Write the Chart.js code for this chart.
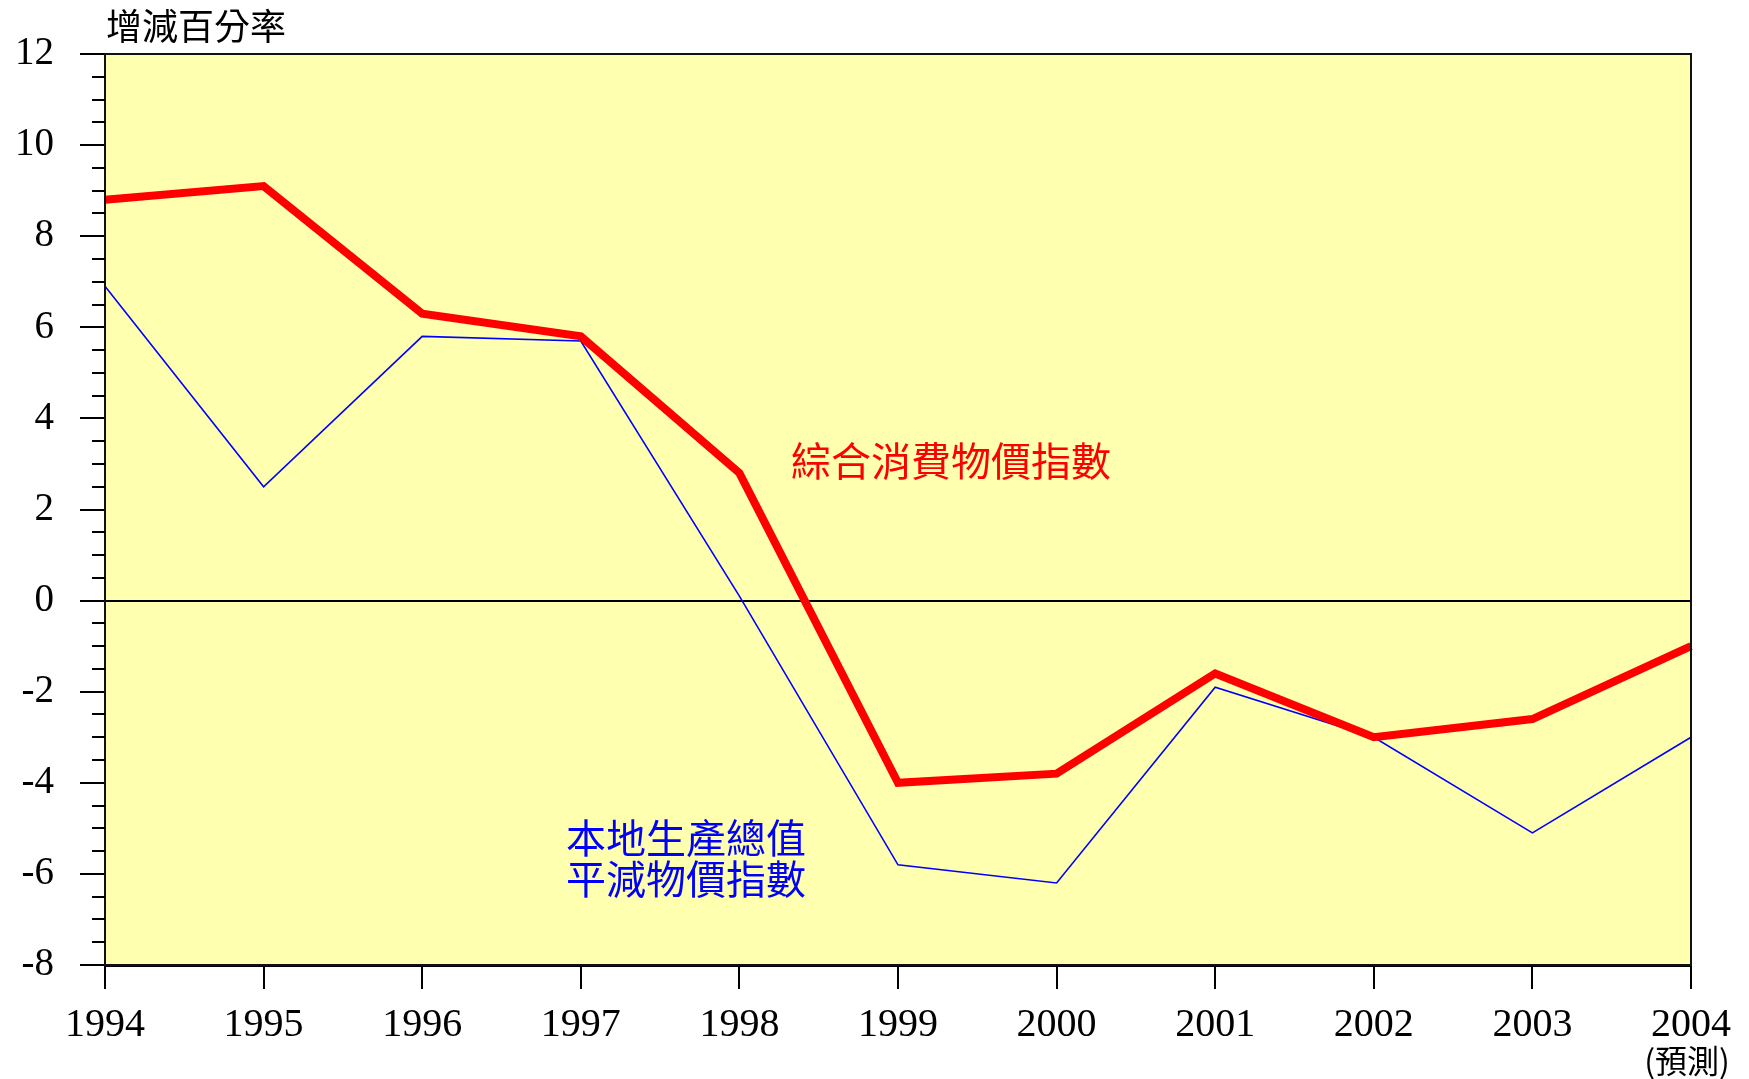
<!DOCTYPE html>
<html>
<head>
<meta charset="utf-8">
<script src="https://cdn.jsdelivr.net/npm/chart.js@4/dist/chart.umd.min.js"></script>
<style>
  body { margin: 0; background: #ffffff; }
  #myChart { display: block; }
</style>
</head>
<body>
<canvas id="myChart" width="1749" height="1079"></canvas>
<script>
// chart data
const years = ["1994", "1995", "1996", "1997", "1998", "1999", "2000", "2001", "2002", "2003", "2004"];
const cpiValues = [8.8, 9.1, 6.3, 5.8, 2.8, -4.0, -3.8, -1.6, -3.0, -2.6, -1.0];
const gdpDeflatorValues = [6.9, 2.5, 5.8, 5.7, 0.1, -5.8, -6.2, -1.9, -3.0, -5.1, -3.0];

// axis range / ticks
const yMin = -8;
const yMax = 12;
const yMajorStep = 2;
const yMinorStep = 0.5;

// texts
const axisTitle = "增減百分率";
const cpiLabel = "綜合消費物價指數";
const gdpLabel = ["本地生產總值", "平減物價指數"];
const forecastNote = "(預測)";

const numFont = "Liberation Serif";
const cjkFont = "'Noto Sans CJK TC', 'Noto Sans CJK SC', sans-serif";

/* Fill plot background and draw the frame */
const plotBox = {
  id: "plotBox",
  beforeDraw(chart) {
    const { ctx, chartArea: a } = chart;
    ctx.save();
    ctx.fillStyle = "#ffffb0";
    ctx.fillRect(a.left, a.top, a.right - a.left, a.bottom - a.top);
    ctx.restore();
  },
  afterDatasetsDraw(chart) {
    const { ctx, chartArea: a } = chart;
    ctx.save();
    ctx.strokeStyle = "#111111";
    ctx.lineWidth = 2;
    ctx.strokeRect(a.left, a.top, a.right - a.left, a.bottom - a.top);
    ctx.restore();
  },
};

/* Minor ticks on y axis + text labels */
const extras = {
  id: "extras",
  afterDraw(chart) {
    const { ctx, chartArea: a } = chart;
    const y = chart.scales.y;
    const x = chart.scales.x;

    ctx.save();
    ctx.strokeStyle = "#000000";
    ctx.lineWidth = 2;
    for (let v = yMin; v <= yMax; v += yMinorStep) {
      if (v % yMajorStep === 0) continue;
      const py = Math.round(y.getPixelForValue(v));
      ctx.beginPath();
      ctx.moveTo(a.left - 13, py);
      ctx.lineTo(a.left, py);
      ctx.stroke();
    }

    // axis title
    ctx.fillStyle = "#000000";
    ctx.font = "36px " + cjkFont;
    ctx.textAlign = "left";
    ctx.textBaseline = "middle";
    ctx.fillText(axisTitle, 106, 26);

    // forecast note under last year
    ctx.font = "32px " + cjkFont;
    ctx.textAlign = "center";
    ctx.fillText(forecastNote, x.getPixelForValue(years.length - 1) - 4, 1061);

    // series labels
    ctx.font = "40px " + cjkFont;
    ctx.fillStyle = "#ff0000";
    ctx.fillText(cpiLabel, 951, 461);

    ctx.fillStyle = "#0000ff";
    ctx.textAlign = "left";
    ctx.fillText(gdpLabel[0], 566, 838);
    ctx.fillText(gdpLabel[1], 566, 879);
    ctx.restore();
  },
};

const data = {
  labels: years,
  datasets: [
    {
      label: cpiLabel,
      data: cpiValues,
      borderColor: "#ff0000",
      borderWidth: 8,
      pointRadius: 0,
      tension: 0,
      borderJoinStyle: "miter",
    },
    {
      label: gdpLabel.join(""),
      data: gdpDeflatorValues,
      borderColor: "#0000ff",
      borderWidth: 1.6,
      pointRadius: 0,
      tension: 0,
    },
  ],
};

const config = {
  type: "line",
  data: data,
  options: {
    responsive: false,
    devicePixelRatio: 1,
    animation: false,
    layout: {
      padding: { top: 54, right: 58, left: 0, bottom: 0 },
    },
    plugins: {
      legend: { display: false },
      tooltip: { enabled: false },
    },
    scales: {
      x: {
        type: "category",
        offset: false,
        afterFit: (scale) => {
          scale.height = 114;
        },
        border: { display: true, color: "#000000", width: 3 },
        grid: {
          drawOnChartArea: false,
          drawTicks: true,
          tickLength: 24,
          tickColor: "#000000",
          lineWidth: 2,
        },
        ticks: {
          autoSkip: false,
          maxRotation: 0,
          padding: 12,
          color: "#000000",
          font: { family: numFont, size: 40 },
        },
      },
      y: {
        min: yMin,
        max: yMax,
        afterFit: (scale) => {
          scale.width = 105;
        },
        border: { display: true, color: "#000000", width: 2 },
        grid: {
          drawOnChartArea: true,
          drawTicks: true,
          tickLength: 25,
          tickColor: "#000000",
          lineWidth: 2,
          color: (ctx) => (ctx.tick && ctx.tick.value === 0 ? "#000000" : "rgba(0,0,0,0)"),
        },
        ticks: {
          stepSize: yMajorStep,
          padding: 26,
          color: "#000000",
          font: { family: numFont, size: 39 },
          callback: (v) => String(v),
        },
      },
    },
  },
  plugins: [plotBox, extras],
};

let myChart = new Chart(document.getElementById("myChart"), config);
</script>
</body>
</html>
